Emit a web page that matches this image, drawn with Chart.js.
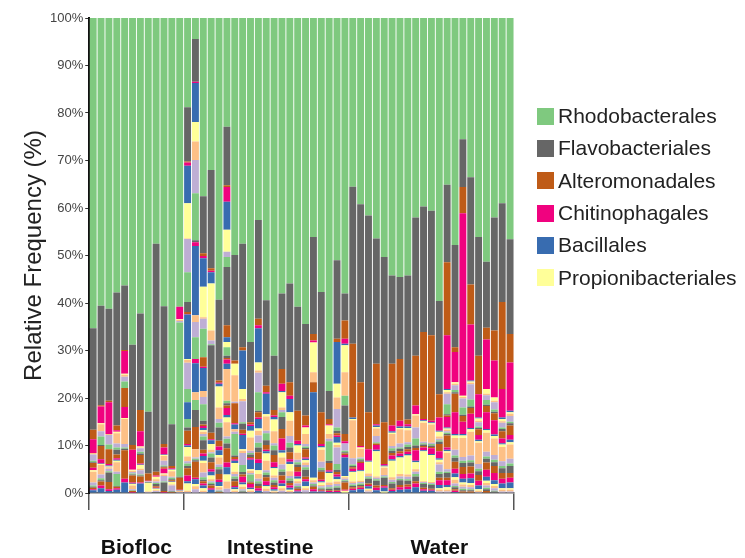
<!DOCTYPE html>
<html>
<head>
<meta charset="utf-8">
<script src="https://cdn.jsdelivr.net/npm/chart.js"></script>
<style>
  body { margin: 0; background: #fff; }
  #wrap { position: relative; width: 745px; height: 558px; }
  #legend { position: absolute; left: 537px; top: 100px; font-family: "Liberation Sans", Arial, sans-serif; font-size: 21px; color: #222; }
  #legend div { height: 32.3px; display: flex; align-items: center; white-space: nowrap; }
  #legend span.box { display: inline-block; width: 17px; height: 17px; margin-right: 4px; }
</style>
</head>
<body>
<div id="wrap">
  <canvas id="barChart" width="745" height="558"></canvas>
  <div id="legend"></div>
</div>
<script>
// sample groups and the orders shown in the legend
const groups = ['Biofloc', 'Intestine', 'Water'];
const taxa = ['Rhodobacterales', 'Flavobacteriales', 'Alteromonadales', 'Chitinophagales', 'Bacillales', 'Propionibacteriales'];
// Accent palette, repeats every 8 orders
const palette = ['#7fc97f', '#666666', '#bf5b17', '#f0027f', '#386cb0', '#ffff99', '#fdc086', '#beaed4'];

// relative frequency (%) per order in each sample, top of the bar first
const biofloc = [
  [65.3, 21.4, 2, 2.9, 0, 0, 0.3, 1.3, 0.3, 0.2, 1.0, 0.5, 0, 0.3, 2.3, 0.6, 0.3, 0.2, 0.3, 0.2, 0.6],
  [60.6, 20.9, 0.3, 3.5, 0, 0.2, 1.5, 1.1, 1.8, 0.2, 2.8, 0.9, 0.1, 0.2, 2.0, 0.8, 0.4, 0.3, 0.8, 0.6, 1.0],
  [61.2, 19.4, 0.3, 6.7, 0, 0, 0.2, 2.0, 1.0, 0, 3.1, 0.3, 0.2, 0.2, 0.3, 0.5, 0.3, 2.0, 1.5, 0.4, 0.4],
  [57.8, 28.0, 1.0, 0.3, 0, 0.3, 2.2, 0.8, 0.5, 1.0, 0.8, 0.3, 0.2, 0.3, 2.0, 0.5, 2.5, 0.2, 0.3, 0.3, 0.7],
  [56.3, 13.6, 0.2, 4.8, 0, 0.2, 0.4, 1.0, 1.4, 0, 4.0, 2.3, 0, 0.2, 5.3, 0.7, 0.3, 0.3, 6.0, 0.8, 2.2],
  [68.8, 21.1, 1.0, 4.2, 0, 0.2, 0.3, 0.3, 0.2, 0.2, 1.5, 0.2, 0.1, 0.3, 0.8, 0.2, 0.1, 0.1, 0.2, 0.1, 0.1],
  [62.2, 20.3, 4.5, 3.2, 0, 0.2, 0.2, 0.7, 0.4, 0.3, 1.8, 0.2, 0.1, 0.8, 0.3, 0.9, 0.2, 0.2, 1.3, 0.2, 2.0],
  [82.9, 13.0, 1.5, 0.1, 0, 0, 0.1, 0.1, 0.1, 0.1, 0, 0, 0, 1.8, 0.1, 0.1, 0, 0.1],
  [47.5, 48.0, 0.8, 0.3, 0, 0.5, 0.5, 0.3, 0.2, 0.5, 0.3, 0.1, 0.1, 0.3, 0.2, 0.2, 0, 0.1, 0, 0, 0.1],
  [60.7, 29.0, 0.7, 1.5, 0.1, 0.2, 1.0, 1.0, 0.2, 0.2, 0.3, 1.0, 0, 0.2, 0.3, 1.2, 0.2, 1.8, 0.2, 0.1, 0.1],
  [85.5, 8.8, 0.5, 0.2, 0.1, 0.3, 1.2, 0.2, 0.3, 0.2, 0.2, 0.1, 0.1, 0.5, 0.2, 1.2, 0.1, 0.1, 0.1, 0, 0.1],
  [60.8, 0, 0, 2.6, 0, 0.2, 0.2, 0.3, 32.5, 0.2, 2.5, 0.1, 0.1, 0.1, 0.2, 0.1, 0, 0, 0, 0, 0.1]
];

const intestine = [
  [18.8, 11.4, 0.2, 0.7, 7.9, 7.4, 0.1, 7.0, 6.3, 2.1, 0.4, 0.1, 9.4, 0.2, 0.6, 5.5, 2.8, 0, 0, 0, 3.5, 0, 0, 0, 1.8, 0.7, 2.8, 0.3, 0.3, 2.0, 1.0, 0.5, 0.5, 0.5, 1.5, 1.2, 0.5, 1.5, 0.3, 0.2],
  [4.4, 9.0, 0, 0.3, 8.2, 4.1, 3.9, 7.0, 9.9, 0.4, 0, 0.8, 14.6, 0, 1.4, 3.2, 4.6, 0, 0, 0.9, 6.1, 0, 1.6, 0, 2.1, 3.6, 4.7, 0, 0, 0, 1.7, 0.3, 0.3, 0.3, 3.4, 0.3, 1.0, 0.5, 0.6, 0.8],
  [37.5, 12.0, 0.6, 0.5, 6.0, 6.4, 0.3, 2.1, 6.0, 0, 2.0, 0.3, 4.8, 0, 1.3, 1.5, 3.5, 0.8, 0.3, 0.4, 0.5, 0.3, 0.5, 0.5, 0.8, 2.0, 0.8, 0.5, 1.0, 0.5, 2.0, 1.0, 0.5, 0.3, 0.5, 0.4, 0.6, 0.5, 0.3, 0.2],
  [32.0, 20.7, 0.5, 0.3, 2.4, 9.9, 2.1, 0.8, 0.2, 18.4, 1.4, 0.2, 0.8, 1.2, 0.5, 0.3, 0.8, 1.0, 1.5, 0.5, 0.8, 0.8, 0.4, 0.3, 0.3, 0.3, 0.6, 0.3, 0.7],
  [59.3, 17.0, 0.5, 0.2, 0.6, 4.4, 2.4, 0.8, 1.0, 2.8, 1.2, 0.8, 1.0, 0.5, 1.5, 0.5, 0.5, 1.0, 1.2, 0.5, 0.8, 0.3, 0.5, 0.2, 0.2, 0.1, 0.1, 0.1],
  [22.9, 12.3, 0.4, 3.1, 5.9, 4.6, 0, 1.1, 2.1, 12.3, 2.5, 0, 1.0, 1.1, 0, 0, 1.8, 0.5, 0.3, 0.9, 1.1, 0, 6.7, 0, 0.5, 0.5, 0.5, 1.5, 0.5, 1.0, 3.0, 0.5, 1.0, 1.0, 3.0, 1.0, 1.5, 1.5, 1.5, 0.9],
  [49.9, 22.2, 0.7, 0, 0, 2.4, 5.6, 0.3, 0, 0, 4.2, 0.3, 1.0, 0, 0.5, 0.5, 4.5, 0.3, 0.5, 0.3, 0.5, 1.8, 0.5, 0.5, 0.5, 0.5, 1.0, 0.3, 0.4, 0.3, 0.3, 0.2],
  [47.5, 21.8, 0.7, 0, 8.1, 2.1, 0.5, 4.4, 0.3, 1.3, 0.8, 0.3, 3.0, 0.3, 0.5, 2.5, 1.5, 0.5, 0.5, 1.2, 0.4, 0.5, 0.5, 0.3, 0.2, 0.3],
  [68.2, 16.9, 0.5, 0.3, 1.0, 1.4, 2.8, 0.5, 0.3, 0.5, 0.3, 0.3, 2.0, 0.3, 0.5, 0.3, 1.5, 0.2, 0.3, 0.8, 0.3, 0.3, 0.3, 0.2],
  [42.5, 20.8, 1.4, 0.6, 7.2, 1.7, 0.5, 4.1, 3.9, 0.3, 1.1, 0.3, 2.0, 0.5, 1.0, 1.5, 1.0, 1.0, 1.5, 0.8, 1.5, 0.8, 1.0, 0.5, 0.5, 0.5, 0.5, 0.5, 0.5],
  [59.4, 18.0, 1.4, 0.3, 4.3, 0.5, 3.0, 0.5, 1.5, 1.0, 1.0, 0.3, 0.5, 1.5, 2.0, 0.5, 0.5, 0.5, 0.8, 0.8, 0.3, 0.5, 0.5, 0.4],
  [71.1, 11.4, 1.2, 0.3, 0.5, 2.5, 2.5, 0.5, 1.0, 1.0, 1.5, 1.0, 0.3, 1.5, 0.5, 0.5, 0.5, 0.5, 0.5, 0.4, 0.3, 0.2, 0.3],
  [58.0, 15.9, 3.1, 1.5, 0.3, 3.2, 0.5, 0.5, 1.0, 2.5, 2.0, 2.5, 0.5, 1.0, 1.5, 1.0, 0.5, 0.8, 1.0, 0.7, 0.5, 0.5, 0.5, 0.5],
  [55.9, 20.8, 2.8, 0.7, 2.8, 1.8, 3.2, 1.4, 1.0, 1.0, 1.5, 0.5, 0.5, 1.5, 1.0, 0.5, 0.5, 0.5, 0.5, 0.5, 0.4, 0.3, 0.2, 0.2],
  [60.8, 21.9, 6.3, 0.7, 0.3, 1.5, 1.5, 0.5, 0.5, 0.5, 1.0, 1.0, 0.5, 0.5, 0.5, 0.5, 0.3, 0.3, 0.3, 0.3, 0.3],
  [64.4, 19.3, 2.1, 0.4, 0, 1.4, 2.1, 0.5, 0.3, 0.3, 1.7, 0.3, 0.3, 0.5, 0.5, 0.5, 0.5, 1.5, 0.5, 0.5, 1.0, 0.4, 0.4, 0.6],
  [46.1, 20.4, 1.4, 0.4, 0, 6.3, 2.1, 0, 0, 0, 2.1, 0, 18.0, 0.5, 0.5, 0.3, 0.3, 0.3, 0.5, 0.5, 0.3],
  [57.7, 25.3, 6.7, 0.4, 0.3, 0.5, 2.5, 1.3, 0.5, 0.3, 1.7, 0.3, 0.3, 0.5, 0.3, 0.3, 0.2, 0.2, 0.2, 0.2, 0.3],
  [78.5, 5.9, 1.1, 0.3, 0, 1.8, 1.0, 0.5, 4.1, 0.5, 1.5, 0.3, 0.3, 2.0, 0.5, 0.5, 0.3, 0.3, 0.2, 0.2, 0.2],
  [51.0, 16.5, 0.7, 0, 8.8, 2.9, 2.4, 3.9, 0.7, 0.5, 0.5, 0.3, 1.2, 0.5, 0.5, 3.5, 1.2, 0.5, 0.5, 0.5, 0.5, 0.5, 0.5, 0.5, 0.3, 0.5, 0.2, 0.2, 0.2],
  [58.0, 5.7, 3.8, 1.1, 0.3, 5.7, 4.9, 0, 2.1, 6.0, 1.5, 0.5, 0, 0, 0, 1.5, 0.3, 0.3, 0.3, 0.5, 3.9, 0.3, 0.3, 0.3, 0.2, 0.3, 1.5, 0.2, 0, 0.5]
];

const water = [
  [35.5, 33.1, 15.5, 0, 0.3, 0.3, 8.0, 1.3, 0.3, 0.3, 0.3, 0.5, 0.2, 2.0, 0.3, 0.3, 0.3, 0.3, 0.3, 0.3, 0.6],
  [39.2, 37.5, 13.4, 0.3, 0, 0.3, 1.8, 0.3, 0.3, 0.3, 0.3, 1.5, 0.2, 2.0, 0.3, 0.3, 0.3, 0.3, 0.3, 0.3, 0.8],
  [41.6, 41.4, 7.8, 2.4, 0.2, 2.5, 0.5, 0.3, 0.3, 1.0, 0.3, 0.3, 0.5, 0.3, 0.3, 0.3],
  [46.4, 26.4, 12.7, 0.3, 0.3, 0.3, 1.6, 1.3, 0.3, 0, 0.3, 1.0, 0.3, 5.3, 0.3, 0.3, 0.3, 1.0, 0.5, 0.5, 0.6],
  [50.3, 34.8, 8.8, 0.3, 0.2, 0.3, 1.5, 0.3, 0.3, 1.5, 0.3, 0.3, 0.8, 0.3],
  [54.2, 18.6, 13.0, 1.2, 0.3, 0.3, 2.5, 0.5, 0.5, 0.5, 0.5, 0.8, 0.3, 3.5, 0.5, 0.5, 0.3, 1.0, 0.3, 0.3, 0.4],
  [54.5, 17.3, 13.0, 1.2, 0.3, 0.3, 3.0, 0.8, 0.3, 0.5, 0.5, 0.5, 0.3, 3.5, 0.5, 0.5, 0.3, 1.0, 0.5, 0.5, 0.7],
  [54.2, 30.3, 1.0, 0.5, 0.3, 0.5, 2.5, 0.5, 0.5, 0.5, 0.5, 0.5, 0.3, 4.0, 0.5, 0.5, 0.3, 0.8, 0.5, 0.5, 0.8],
  [42.0, 29.1, 10.5, 1.8, 0, 0.3, 2.5, 2.3, 1.5, 0.5, 0.5, 2.2, 0.3, 1.5, 0.5, 0.5, 0.5, 1.0, 0.5, 0.8, 1.2],
  [39.7, 26.4, 18.3, 0.3, 0.2, 0.3, 4.0, 0.3, 0.3, 0.3, 0.3, 0.6, 0.2, 6.3, 0.2, 0.2, 0.2, 0.8, 0.3, 0.3, 0.5],
  [40.6, 26.2, 18.0, 0.3, 0.2, 0.3, 3.8, 0.3, 0.3, 0.3, 0.3, 1.2, 0.2, 5.7, 0.2, 0.2, 0.2, 0.8, 0.2, 0.2, 0.5],
  [59.6, 19.6, 4.9, 2.8, 0.2, 1.0, 0.5, 0.3, 0.3, 0.5, 1.5, 1.5, 0.3, 0.5, 0.5, 1.5, 0.5, 0.8, 0.5, 1.0, 0.7, 0.3, 0.4, 0.3],
  [35.1, 16.3, 15.4, 11.3, 0.2, 0.5, 0.3, 2.2, 2.1, 0.3, 0.3, 2.2, 0.2, 0.3, 0.3, 0.3, 0.3, 0.3, 2.5, 0.5, 0.3, 0.3, 3.5, 0.5, 0.3, 1.0, 0.5, 1.0, 0.5, 0.5, 0.4, 0.3],
  [47.8, 21.5, 1.0, 6.4, 0, 0.3, 0.3, 1.0, 0.5, 0.3, 3.9, 4.6, 0.3, 0.5, 2.5, 1.2, 0.5, 0.8, 1.5, 1.0, 0.8, 0.5, 0.8, 0.5, 0.3, 0.4, 0.3, 0.3, 0.2],
  [25.5, 10.1, 5.5, 38.4, 0, 0.3, 0.3, 1.9, 1.5, 0.3, 1.2, 2.6, 0.3, 0.5, 4.0, 0.8, 0.5, 0.8, 1.5, 1.0, 0.8, 0.4, 0.5, 0.4, 0.3, 0.3, 0.3],
  [33.5, 22.6, 8.4, 11.8, 0.2, 0.3, 0.3, 3.2, 1.5, 0.3, 1.2, 3.0, 0.3, 0.5, 5.0, 1.0, 0.5, 0.8, 1.5, 1.0, 1.0, 0.4, 0.5, 0.4, 0.2, 0.3, 0.3],
  [46.1, 25.0, 8.1, 4.9, 0.2, 0.5, 0.3, 0.9, 0.3, 0.3, 1.2, 1.0, 0.3, 0.3, 4.5, 1.0, 0.5, 0.8, 1.2, 1.0, 0.8, 0.3, 0.3, 0.2],
  [51.3, 13.9, 2.5, 10.4, 0, 1.0, 0.3, 1.0, 1.0, 0.3, 1.3, 3.5, 0.3, 0.5, 4.0, 1.0, 0.5, 0.8, 1.5, 1.5, 0.8, 0.5, 0.5, 0.5, 0.3, 0.4, 0.4],
  [42.0, 23.8, 6.3, 7.8, 0, 0.7, 0.3, 1.5, 0.5, 0.3, 1.5, 3.0, 0.3, 0.5, 3.5, 1.0, 0.5, 0.8, 1.5, 1.5, 0.8, 0.4, 0.5, 0.5, 0.2, 0.3],
  [39.0, 20.8, 18.3, 6.0, 0.3, 0.5, 0.3, 1.0, 0.3, 0.5, 1.5, 1.0, 0.3, 0.5, 3.0, 1.0, 0.5, 1.0, 1.2, 1.0, 1.0, 0.3, 0.4, 0.3],
  [46.6, 19.9, 6.0, 10.2, 0.3, 0.3, 0.5, 1.2, 0.3, 0.5, 2.0, 1.0, 0.5, 0.5, 3.0, 1.0, 0.5, 1.5, 1.0, 1.0, 1.2, 0.3, 0.4, 0.3]
];

// where the group names sit on the bottom axis (in bar units)
const groupLabelAt = [5.5, 22.5, 44];

const samples = biofloc.concat(intestine, water);
const sampleNames = [];
biofloc.forEach((r, i) => sampleNames.push('Biofloc ' + (i + 1)));
intestine.forEach((r, i) => sampleNames.push('Intestine ' + (i + 1)));
water.forEach((r, i) => sampleNames.push('Water ' + (i + 1)));
const n = samples.length;
const groupEdges = [-0.5, biofloc.length - 0.5, biofloc.length + intestine.length - 0.5, n - 0.5];

let nLayers = 0;
samples.forEach(r => { nLayers = Math.max(nLayers, r.length); });

// deepest order first so the first order ends up on top of each stack
const datasets = [];
for (let j = nLayers - 1; j >= 0; j--) {
  datasets.push({
    label: j < taxa.length ? taxa[j] : 'Other order ' + (j + 1),
    data: samples.map(r => r[j] || 0),
    backgroundColor: palette[j % palette.length],
    borderWidth: 0,
    barPercentage: 0.88,
    categoryPercentage: 1
  });
}

const font = '"Liberation Sans", Arial, sans-serif';

var ctx = document.getElementById('barChart').getContext('2d');
var myChart = new Chart(ctx, {
  type: 'bar',
  data: { labels: sampleNames, datasets: datasets },
  options: {
    responsive: false,
    animation: false,
    layout: { padding: { left: 5, right: 231, top: 18, bottom: 0 } },
    plugins: { legend: { display: false }, tooltip: { enabled: false } },
    scales: {
      x: { type: 'category', stacked: true, display: false, offset: true },
      edges: {
        type: 'linear', position: 'bottom', min: -0.5, max: n - 0.5, weight: 0, offset: false,
        afterBuildTicks: s => { s.ticks = groupEdges.map(v => ({ value: v })); },
        afterFit: s => { s.height = 17; },
        ticks: { display: false },
        grid: { offset: false, drawOnChartArea: false, drawTicks: true, tickLength: 17, color: '#555', lineWidth: 1.5 },
        border: { display: true, color: '#666', width: 1.5 }
      },
      groups: {
        type: 'linear', position: 'bottom', min: -0.5, max: n - 0.5, weight: 1, offset: false,
        afterBuildTicks: s => { s.ticks = groupLabelAt.map(v => ({ value: v })); },
        afterFit: s => { s.height = 48; },
        ticks: {
          autoSkip: false, maxRotation: 0, padding: 26, color: '#111',
          font: { family: font, size: 21, weight: 'bold' },
          callback: (v, i) => groups[i]
        },
        grid: { offset: false, display: false, drawTicks: false },
        border: { display: false }
      },
      y: {
        stacked: true, min: 0, max: 100,
        ticks: { stepSize: 10, padding: 2, color: '#444', font: { family: font, size: 13 }, callback: v => v + '%' },
        grid: { drawOnChartArea: false, drawTicks: true, tickLength: 4, color: '#333' },
        border: { display: true, color: '#111', width: 2 },
        title: { display: true, text: 'Relative Frequency (%)', color: '#222', font: { family: font, size: 24, lineHeight: 1 }, padding: { top: 17, bottom: 2 } }
      }
    }
  }
});

// legend for the named orders
const legend = document.getElementById('legend');
taxa.forEach((t, i) => {
  const row = document.createElement('div');
  const box = document.createElement('span');
  box.className = 'box';
  box.style.background = palette[i];
  row.appendChild(box);
  row.appendChild(document.createTextNode(t));
  legend.appendChild(row);
});
</script>
</body>
</html>
